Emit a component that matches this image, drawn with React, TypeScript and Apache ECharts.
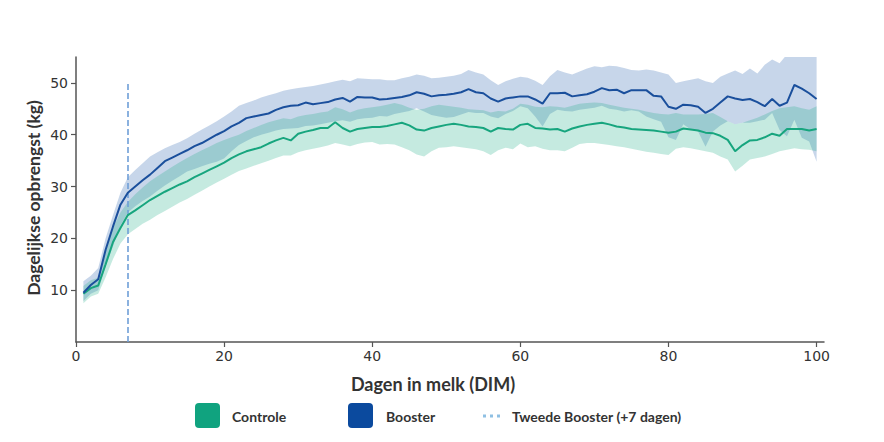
import React, { useEffect, useRef } from "react";
import * as echarts from "echarts";

const days: number[] = Array.from({ length: 100 }, (_, i) => i + 1);

const boosterMean = [
  9.5, 11.0, 12.1, 17.8, 22.3, 26.5, 28.8, 30.0, 31.2, 32.3,
  33.6, 34.9, 35.6, 36.3, 37.0, 37.8, 38.4, 39.2, 40.0, 40.7,
  41.6, 42.3, 43.2, 43.5, 43.8, 44.1, 44.8, 45.3, 45.6, 45.7,
  46.2, 45.9, 46.1, 46.3, 46.8, 47.1, 46.4, 47.3, 47.2, 47.2,
  46.8, 46.9, 47.1, 47.3, 47.6, 48.2, 47.9, 47.4, 47.6, 47.7,
  47.9, 48.2, 48.8, 48.2, 48.0, 47.0, 46.4, 47.0, 47.2, 47.4,
  47.4, 46.8, 46.0, 48.0, 48.0, 48.1, 47.4, 47.6, 47.8, 48.3,
  49.0, 48.6, 48.7, 48.0, 48.6, 48.6, 48.6, 47.5, 47.4, 45.4,
  45.0, 45.8, 45.7, 45.4, 44.2, 45.0, 46.2, 47.4, 47.0, 46.7,
  46.9, 46.3, 45.5, 46.9, 45.6, 46.2, 49.6, 48.9, 48.0, 46.9,
];
const boosterUpper = [
  11.7, 12.8, 14.3, 20.0, 24.5, 28.8, 31.8, 33.2, 34.5, 35.8,
  36.6, 37.4, 38.0, 38.6, 39.3, 40.2, 41.0, 41.8, 42.6, 43.5,
  44.5, 45.6, 46.1, 46.6, 47.2, 47.6, 48.0, 48.5, 48.8, 49.0,
  49.2, 49.4, 49.7, 50.0, 50.3, 50.6, 50.3, 50.9, 50.8, 50.7,
  50.7, 50.5, 50.5, 50.9, 51.2, 51.6, 51.4, 50.9, 51.0, 51.2,
  51.4, 51.7, 52.5, 52.0, 51.6, 50.5, 49.6, 50.3, 50.8, 51.2,
  51.0, 50.4, 49.6, 51.3, 52.5, 52.0, 51.6, 52.2, 52.8, 53.2,
  53.0, 53.3, 53.2, 52.9, 52.5, 52.4, 52.6, 52.4, 52.0, 51.6,
  50.0, 50.3, 50.6, 50.9, 50.3, 50.0, 51.2, 51.8, 52.4, 51.7,
  52.8, 51.8, 53.5, 54.5, 53.8, 55.5, 57.0, 57.5, 57.0, 56.5,
];
const boosterLower = [
  7.9, 9.3, 10.0, 14.5, 18.5, 22.5, 25.0, 26.2, 27.2, 28.1,
  29.2, 30.2, 31.1, 32.0, 32.9, 33.4, 33.9, 34.4, 34.8, 35.4,
  36.8, 38.0, 38.8, 39.5, 40.0, 40.4, 40.8, 41.1, 41.2, 41.3,
  41.7, 41.8, 42.0, 42.3, 42.6, 42.8, 42.5, 43.0, 43.2, 43.3,
  43.6, 43.5, 44.0, 44.3, 44.6, 45.1, 44.5, 43.8, 43.5, 43.3,
  43.4, 43.9, 44.4, 44.2, 44.2, 43.5, 43.2, 44.0, 44.6, 45.5,
  45.1, 43.5, 41.6, 44.0, 44.8, 44.6, 44.5, 44.8, 45.0, 45.2,
  45.6, 45.0, 44.8, 44.5, 44.7, 44.5, 43.5, 43.0, 42.5, 39.5,
  39.0, 42.0, 41.0, 40.6, 37.7, 40.6, 41.8, 42.6, 42.0, 42.3,
  42.3, 42.6, 42.9, 44.2, 40.9, 39.7, 42.9, 39.4, 38.7, 34.8,
];

const controleMean = [
  9.3, 10.4, 10.9, 15.0, 19.3, 22.0, 24.5, 25.4, 26.4, 27.4,
  28.2, 29.0, 29.7, 30.4, 31.0, 31.8, 32.5, 33.2, 33.9, 34.6,
  35.5, 36.2, 36.8, 37.2, 37.6, 38.3, 38.9, 39.4, 38.9, 40.2,
  40.6, 40.9, 41.3, 41.3, 42.4, 41.3, 40.6, 41.1, 41.3, 41.5,
  41.5, 41.7, 42.0, 42.3, 41.8, 41.0, 40.8, 41.3, 41.6, 41.9,
  42.1, 41.9, 41.6, 41.5, 41.3, 40.6, 41.3, 41.1, 41.0, 41.9,
  42.1, 41.3, 41.2, 41.0, 41.1, 40.6, 41.2, 41.6, 41.9, 42.1,
  42.3, 42.0, 41.6, 41.4, 41.1, 41.0, 40.9, 40.8, 40.6, 40.4,
  40.6, 41.2, 41.0, 40.8, 40.4, 40.3, 39.8, 39.0, 36.8, 38.0,
  38.9, 39.0, 39.5, 40.2, 39.8, 41.1, 41.1, 41.1, 40.8, 41.1,
];
const controleUpper = [
  10.8, 11.9, 12.4, 17.5, 22.0, 25.0, 27.0, 28.5, 29.8, 31.0,
  32.0, 32.9, 33.8, 34.7, 35.5, 36.3, 37.0, 37.7, 38.4, 39.0,
  39.5, 40.0, 40.7, 41.3, 41.9, 42.4, 42.8, 43.2, 43.0, 43.5,
  43.8, 44.0, 44.3, 44.5, 45.3, 44.9, 44.3, 44.8, 45.1, 45.3,
  45.5, 45.8, 46.1, 45.8, 45.2, 44.8, 45.0, 45.5, 45.8, 45.6,
  45.4, 45.2, 44.9, 44.8, 44.7, 44.3, 44.6, 44.5, 45.0, 46.0,
  45.8, 45.4, 45.3, 45.5, 45.4, 45.2, 45.6, 46.0, 46.1, 46.2,
  46.1, 45.8, 45.5, 45.2, 45.0, 44.8, 44.5, 44.2, 44.0, 43.9,
  44.2, 43.9, 43.9, 43.9, 44.0, 44.2, 43.4, 42.6, 42.0, 42.3,
  42.8, 43.3, 43.9, 44.6, 45.1, 45.3, 45.5, 45.1, 44.8, 45.5,
];
const controleLower = [
  7.5, 8.8, 9.3, 12.5, 16.0, 19.0, 20.8, 21.8, 22.8, 23.6,
  24.5, 25.3, 26.1, 26.9, 27.6, 28.4, 29.2, 30.0, 30.8, 31.5,
  32.3, 33.0, 33.5, 34.0, 34.5, 35.0, 35.5, 36.0, 36.0, 36.6,
  37.0, 37.3, 37.6, 37.9, 38.4, 38.1, 37.8, 38.2, 38.5, 38.6,
  38.1, 38.2, 38.1, 37.6, 37.0, 36.2, 35.8, 36.8, 37.5, 37.6,
  37.8, 37.6, 37.4, 37.2, 36.8, 36.1, 37.0, 37.5, 37.2, 38.3,
  37.6, 37.8, 37.3, 37.0, 37.0, 36.8, 37.5, 38.2, 38.4, 38.4,
  38.2, 38.0, 37.8, 37.6, 37.3, 37.0, 36.7, 36.5, 36.3, 36.1,
  37.3, 37.6, 37.4, 37.1, 36.8, 36.5, 35.8, 35.2, 32.9, 34.0,
  35.2, 35.5, 35.8, 36.3, 36.8, 37.1, 37.4, 37.2, 37.1, 36.8,
];

const xTicks = [0, 20, 40, 60, 80, 100];
const yTicks = [10, 20, 30, 40, 50];
const boosterDay = 7;
const legendLabels = ["Controle", "Booster", "Tweede Booster (+7 dagen)"];
const xTitle = "Dagen in melk (DIM)";
const yTitle = "Dagelijkse opbrengst (kg)";

const GREEN = "#17a57e";
const BLUE = "#1a4f9c";
const GREEN_BAND = "rgba(25,170,130,0.25)";
const BLUE_BAND = "rgba(30,90,170,0.25)";

function pairs(v: number[]) {
  return days.map((d, i) => [d, v[i]]);
}

function bandSeries(upper: number[], lower: number[], color: string, z: number) {
  return {
    type: "custom",
    silent: true,
    clip: true,
    z,
    data: [[days[0], lower[0]]],
    renderItem: (params: any, api: any) => {
      const pts: number[][] = [];
      for (let i = 0; i < days.length; i++) pts.push(api.coord([days[i], upper[i]]));
      for (let i = days.length - 1; i >= 0; i--) pts.push(api.coord([days[i], lower[i]]));
      const cs = params.coordSys;
      return {
        type: "polygon",
        shape: { points: pts },
        style: { fill: color, stroke: "none" },
        clipPath: { type: "rect", shape: { x: cs.x, y: cs.y, width: cs.width, height: cs.height } },
      };
    },
  };
}

export default function App() {
  const ref = useRef<HTMLDivElement>(null);
  useEffect(() => {
    if (!ref.current) return;
    const chart = echarts.init(ref.current, null, { renderer: "svg" });
    const tickFont = { fontFamily: "DejaVu Sans", fontSize: 14, color: "#333" };
    const boldFont = "Lato";
    const legendStyle = { align: "left", verticalAlign: "middle", fontFamily: boldFont, fontWeight: "bold", fontSize: 14, fill: "#333" };
    chart.setOption({
      animation: false,
      grid: { left: 76, right: 60, top: 57, bottom: 100, containLabel: false },
      xAxis: {
        type: "value",
        min: 0,
        max: 101,
        axisLine: { show: true, lineStyle: { color: "#555", width: 1.5 } },
        axisTick: { show: true, length: 5, lineStyle: { color: "#555", width: 1.2 }, customValues: xTicks },
        axisLabel: { ...tickFont, margin: 7, customValues: xTicks },
        splitLine: { show: false },
      },
      yAxis: {
        type: "value",
        min: 0,
        max: 55,
        axisLine: { show: true, lineStyle: { color: "#555", width: 1.5 } },
        axisTick: { show: true, length: 5, lineStyle: { color: "#555", width: 1.2 }, customValues: yTicks },
        axisLabel: { ...tickFont, margin: 8, customValues: yTicks },
        splitLine: { show: false },
      },
      series: [
        bandSeries(boosterUpper, boosterLower, BLUE_BAND, 1),
        bandSeries(controleUpper, controleLower, GREEN_BAND, 2),
        {
          type: "line", name: "Controle", data: pairs(controleMean),
          symbol: "none", lineStyle: { color: GREEN, width: 2 }, z: 5,
        },
        {
          type: "line", name: "Booster", data: pairs(boosterMean),
          symbol: "none", lineStyle: { color: BLUE, width: 2 }, z: 6,
          markLine: {
            silent: true, symbol: "none", label: { show: false },
            lineStyle: { color: "#6f9fd8", width: 1.6, type: [6, 3] },
            data: [[{ coord: [boosterDay, 0] }, { coord: [boosterDay, 50] }]],
          },
        },
      ],
      graphic: [
        {
          type: "text", x: 433, y: 384,
          style: { text: xTitle, align: "center", verticalAlign: "middle", fontFamily: boldFont, fontWeight: "bold", fontSize: 18, fill: "#333" },
        },
        {
          type: "text", x: 33, y: 198, rotation: Math.PI / 2,
          style: { text: yTitle, align: "center", verticalAlign: "middle", fontFamily: boldFont, fontWeight: "bold", fontSize: 17.5, fill: "#333" },
        },
        { type: "rect", shape: { x: 195, y: 403, width: 25, height: 25, r: 4 }, style: { fill: "#10a37f" } },
        { type: "text", x: 232, y: 416, style: { ...legendStyle, text: legendLabels[0] } },
        { type: "rect", shape: { x: 348, y: 403, width: 25, height: 25, r: 4 }, style: { fill: "#0b4a9e" } },
        { type: "text", x: 386, y: 416, style: { ...legendStyle, text: legendLabels[1] } },
        {
          type: "line", shape: { x1: 483, y1: 416, x2: 501, y2: 416 },
          style: { stroke: "#8fc0e3", lineWidth: 3, lineDash: [3, 4] },
        },
        { type: "text", x: 512, y: 416, style: { ...legendStyle, text: legendLabels[2] } },
      ],
    });
    return () => chart.dispose();
  }, []);
  return (
    <div
      ref={ref}
      style={{ position: "fixed", left: 0, top: 0, width: 884, height: 442, background: "#fff" }}
    />
  );
}
